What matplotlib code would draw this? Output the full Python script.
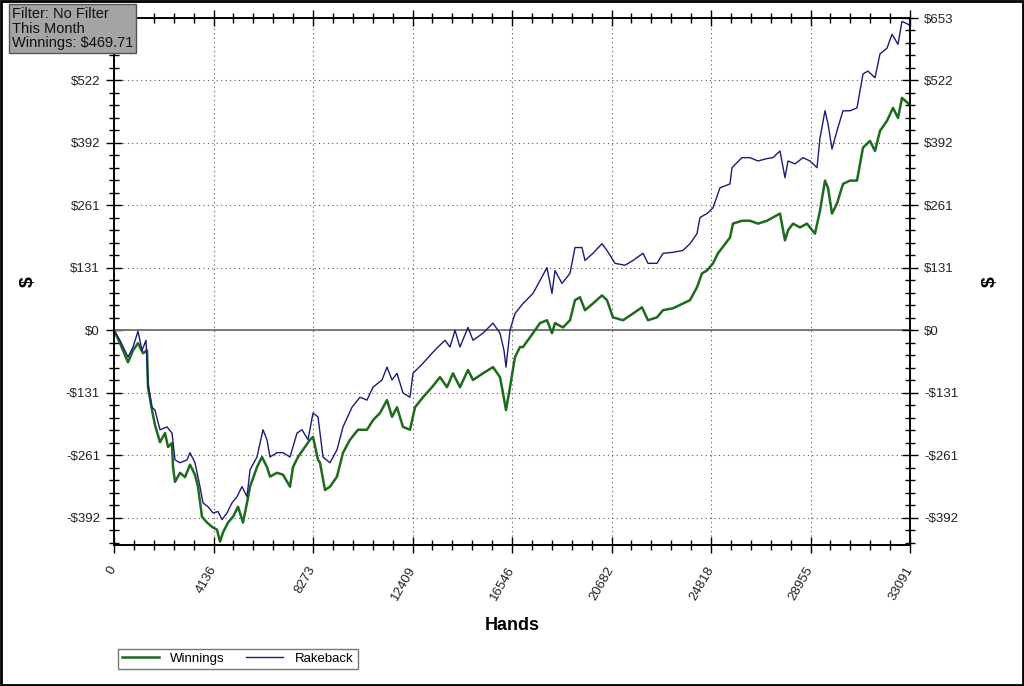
import numpy as np
import matplotlib.pyplot as plt
from matplotlib.ticker import FixedLocator, AutoMinorLocator
from matplotlib.patches import Rectangle

plt.rcParams['font.family'] = ['Liberation Sans', 'DejaVu Sans']

# Winnings curve (hands, $)
win_hands = [0, 249, 582, 790, 998, 1206, 1372, 1413, 1580, 1704, 1912, 2120, 2245, 2411, 2453,
             2536, 2744, 2952, 3159, 3367, 3492, 3658, 3866, 4074, 4282, 4407, 4531, 4739, 4947,
             5155, 5363, 5529, 5654, 5945, 6152, 6360, 6485, 6776, 7025, 7316, 7441, 7649, 7857,
             8148, 8273, 8481, 8564, 8772, 8979, 9270, 9520, 9811, 10143, 10517, 10767, 11058,
             11349, 11557, 11764, 12014, 12305, 12513, 12845, 13219, 13552, 13843, 14092, 14383,
             14716, 14924, 15339, 15755, 16046, 16171, 16296, 16462, 16670, 16878, 17002, 17418,
             17709, 18000, 18208, 18333, 18665, 18956, 19164, 19372, 19580, 19912, 20286, 20494,
             20744, 21159, 21575, 21949, 22199, 22573, 22822, 23238, 23654, 23945, 24236, 24444,
             24651, 24901, 25109, 25608, 25732, 26106, 26439, 26771, 27146, 27395, 27686, 27894,
             28019, 28227, 28518, 28809, 29141, 29349, 29557, 29682, 29848, 30056, 30305, 30596,
             30887, 31137, 31428, 31636, 31844, 32135, 32384, 32592, 32758, 33008, 33091]
win_vals = [0, -27, -67, -42, -27, -48, -42, -119, -167, -198, -234, -215, -244, -236, -286,
            -317, -298, -307, -281, -302, -327, -390, -402, -411, -417, -442, -423, -402, -390,
            -369, -402, -361, -327, -286, -265, -286, -306, -298, -302, -327, -286, -265, -250,
            -229, -223, -271, -277, -334, -327, -306, -256, -229, -208, -208, -188, -173,
            -146, -181, -161, -202, -208, -161, -140, -119, -98, -119, -90, -119,
            -83, -104, -90, -77, -98, -131, -167, -119, -56, -35, -35, -6,
            15, 21, -6, 15, 6, 21, 63, 69, 42, 56, 73, 63,
            27, 21, 35, 48, 21, 27, 42, 46, 56, 63, 90, 119,
            125, 140, 161, 194, 223, 229, 229, 223, 229, 236, 244, 188,
            209, 223, 215, 223, 202, 250, 313, 298, 244, 265, 306, 313,
            313, 382, 396, 375, 417, 438, 465, 444, 486, 475, 470]

# Winnings + rakeback curve (hands, $)
rb_hands = [0, 249, 582, 790, 998, 1164, 1330, 1413, 1580, 1704, 1912, 2203, 2411, 2536, 2744,
            3035, 3159, 3367, 3575, 3700, 3908, 4116, 4323, 4490, 4698, 4905, 5113, 5321, 5529,
            5654, 5945, 6194, 6360, 6485, 6776, 7025, 7316, 7608, 7815, 8065, 8273, 8481, 8688,
            8979, 9270, 9520, 9894, 10226, 10517, 10767, 11141, 11349, 11557, 11764, 12014,
            12305, 12430, 12845, 13219, 13469, 13760, 13968, 14176, 14383, 14716, 14924, 15339,
            15755, 16046, 16213, 16296, 16462, 16670, 17002, 17418, 17709, 18000, 18208, 18333,
            18624, 18956, 19164, 19455, 19580, 19912, 20286, 20494, 20827, 21243, 21575, 21991,
            22199, 22573, 22822, 23238, 23654, 23945, 24236, 24361, 24651, 24901, 25192, 25608,
            25691, 26106, 26439, 26771, 27146, 27395, 27686, 27894, 28019, 28310, 28643, 28934,
            29225, 29349, 29557, 29682, 29848, 30056, 30305, 30596, 30887, 31137, 31345, 31636,
            31844, 32135, 32343, 32592, 32758, 33008, 33091]
rb_vals = [0, -21, -56, -35, -2, -42, -21, -110, -161, -167, -208, -202, -215, -271, -277,
           -271, -256, -277, -327, -361, -369, -382, -379, -396, -382, -361, -348, -327, -348,
           -292, -265, -208, -229, -265, -256, -256, -265, -215, -208, -229, -173, -181, -265,
           -277, -250, -202, -161, -140, -146, -119, -104, -77, -104, -90, -131,
           -140, -90, -69, -48, -35, -21, -35, 0, -35, 6, -21, -6,
           15, -6, -42, -77, 0, 35, 56, 77, 104, 131, 77, 125,
           98, 119, 173, 173, 146, 161, 181, 167, 140, 136, 146, 161,
           140, 140, 161, 163, 167, 181, 202, 236, 244, 256, 298, 306,
           340, 361, 361, 354, 359, 361, 375, 319, 354, 348, 361, 354,
           340, 402, 459, 432, 379, 417, 459, 459, 465, 536, 542, 528,
           578, 590, 619, 598, 646, 640, 636]

x_max = 33091
y_max = 653
y_min = -449
x_labels = ['0', '4136', '8273', '12409', '16546', '20682', '24818', '28955', '33091']
y_step = y_max / 5


def money(v):
    return ('-$%d' % round(-v)) if v < -0.5 else ('$%d' % round(v))


fig = plt.figure(figsize=(10.24, 6.86), dpi=100)
ax = fig.add_axes([114 / 1024, 1 - 545 / 686, 796 / 1024, 527 / 686])

ax.plot(win_hands, win_vals, color='#1e6b1e', lw=1.8, label='Winnings', zorder=3)
ax.plot(rb_hands, rb_vals, color='#1c1c78', lw=1.0, label='Rakeback', zorder=3)
ax.axhline(0, color='#707070', lw=1.3, zorder=2)

ax.set_xlim(0, x_max)
ax.set_ylim(y_min, y_max)

xt = np.linspace(0, x_max, 9)
yt = np.arange(-3, 6) * y_step
ax.xaxis.set_major_locator(FixedLocator(xt))
ax.yaxis.set_major_locator(FixedLocator(yt))
ax.xaxis.set_minor_locator(AutoMinorLocator(5))
ax.yaxis.set_minor_locator(AutoMinorLocator(5))
ax.set_xticklabels(x_labels, rotation=60, ha='right', va='center', rotation_mode='anchor')
# top-left label is covered by the filter box in the original
ax.set_yticklabels([money(v) for v in yt[:-1]] + [''])

# right axis with its own labels
ax2 = ax.twinx()
ax2.set_ylim(y_min, y_max)
ax2.yaxis.set_major_locator(FixedLocator(yt))
ax2.yaxis.set_minor_locator(AutoMinorLocator(5))
ax2.set_yticklabels([money(v) for v in yt])

ax.tick_params(which='both', direction='inout', top=True, right=False,
               labelsize=9.5, labelcolor='#222222')
ax2.tick_params(which='both', direction='inout', labelsize=9.5, labelcolor='#222222')
for a in (ax, ax2):
    a.tick_params(which='major', length=12, width=1)
    a.tick_params(which='minor', length=7, width=1)
    a.tick_params(axis='y', which='major', pad=4)
    for s in a.spines.values():
        s.set_color('black')
        s.set_linewidth(1.2)
ax.tick_params(axis='x', which='major', pad=10)

ax.grid(True, which='major', color='#555555', linestyle=(0, (1, 3)), lw=0.8)

fig.text(512 / 1024, 1 - 626 / 686, 'Hands', fontsize=13, fontweight='bold',
         ha='center', va='center')
fig.text(28 / 1024, 1 - 282 / 686, '$', fontsize=14, fontweight='bold',
         rotation=90, ha='center', va='center')
fig.text(990 / 1024, 1 - 282 / 686, '$', fontsize=14, fontweight='bold',
         rotation=90, ha='center', va='center')

fig.text(12 / 1024, 1 - 7 / 686, 'Filter: No Filter\nThis Month\nWinnings: $469.71',
         fontsize=10.5, ha='left', va='top', linespacing=1.05, color='#111111', zorder=10,
         bbox=dict(boxstyle='square,pad=0.2', facecolor='#a4a4a4', edgecolor='#555555'))

leg = fig.legend(loc='upper left', bbox_to_anchor=(111 / 1024, 1 - 642 / 686), ncol=2,
                 fontsize=9.5, frameon=True, fancybox=False, edgecolor='#555555',
                 handlelength=2.8, columnspacing=1.6, borderpad=0.3, handletextpad=0.9)
leg.get_frame().set_linewidth(1.0)

fig.patches.append(Rectangle((0.001, 0.001), 0.998, 0.997, transform=fig.transFigure,
                             fill=False, edgecolor='black', lw=2))

fig.savefig('out.png', dpi=100)
